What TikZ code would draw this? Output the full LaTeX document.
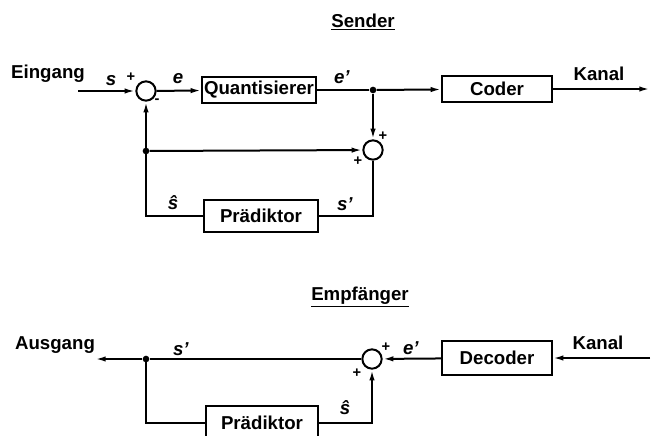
\documentclass[tikz,border=0pt]{standalone}
\usepackage{fontspec}
\setmainfont{Liberation Sans}
\usetikzlibrary{arrows.meta}
\begin{document}
\begin{tikzpicture}[x=0.75pt,y=-0.75pt,
  every node/.style={font=\fontsize{14}{16}\selectfont\bfseries},
  wire/.style={line width=1.5pt},
  arr/.style={wire,-{Latex[length=8pt,width=4pt]}},
  blk/.style={draw,line width=1.5pt,inner sep=0pt},
  sumpt/.style={draw,circle,line width=1.5pt,minimum size=14.5pt,inner sep=0pt},
  dotpt/.style={circle,fill,inner sep=0pt,minimum size=5pt},
  lbl/.style={inner sep=1pt},
  sg/.style={inner sep=0pt,font=\fontsize{11}{12}\selectfont\bfseries}]
\useasboundingbox (0,0) rectangle (655,435);
% titles
\node[lbl] (tsend) at (363,22) {\underline{Sender}};
\node[lbl] (temp) at (360,297) {\underline{Empfänger}};
% ---------- Sender ----------
\coordinate (in1) at (78,91);
\node[sumpt] (s1) at (146,91) {};
\node[blk,minimum width=85pt,minimum height=19pt] (q) at (259,90) {Quantisierer};
\node[dotpt] (j1) at (373,90) {};
\node[blk,minimum width=82pt,minimum height=20pt] (coder) at (497,89) {Coder};
\coordinate (out1) at (650,89);
\node[sumpt] (s2) at (373,150) {};
\node[dotpt] (j2) at (146,151) {};
\node[blk,minimum width=85pt,minimum height=24pt] (p1) at (261,216) {Prädiktor};
\coordinate (c1) at (146,216);
\coordinate (c2) at (373,216);

\draw[arr] (in1) -- (s1);
\draw[arr] (s1) -- (q);
\draw[wire] (q) -- (j1);
\draw[arr] (j1) -- (coder);
\draw[arr] (coder) -- (out1);
\draw[arr] (j1) -- (s2);
\draw[arr] (j2) -- (s2);
\draw[wire] (p1) -- (c1) -- (j2.center);
\draw[arr] (j2.center) -- (s1);
\draw[wire] (s2) -- (c2) -- (p1);

\node[lbl] (lEin) at (48,74) {Eingang};
\node[lbl] (ls) at (111,81) {\textit{s}};
\node[sg] (p1a) at (131,77) {+};
\node[sg] (m1) at (157,101) {-};
\node[lbl] (le) at (178,79) {\textit{e}};
\node[lbl] (lep) at (342,77) {\textit{e’}};
\node[lbl] (lKan) at (599,74) {Kanal};
\node[sg] (p2a) at (383,136) {+};
\node[sg] (p2b) at (358,161) {+};
\node[lbl] (lsh) at (173,203) {\textit{ŝ}};
\node[lbl] (lsp) at (345,204) {\textit{s’}};
% ---------- Empfaenger ----------
\coordinate (out2) at (95,359);
\node[dotpt] (j3) at (146,359) {};
\node[sumpt] (s3) at (372,359) {};
\node[blk,minimum width=82pt,minimum height=26pt] (dec) at (497,358) {Decoder};
\coordinate (in2) at (650,358);
\node[blk,minimum width=84pt,minimum height=26pt] (p2) at (262,423) {Prädiktor};
\coordinate (c3) at (146,423);
\coordinate (c4) at (372,423);

\draw[arr] (in2) -- (dec);
\draw[arr] (dec) -- (s3);
\draw[wire] (s3) -- (j3);
\draw[arr] (j3) -- (out2);
\draw[wire] (j3.center) -- (c3) -- (p2);
\draw[arr] (p2) -- (c4) -- (s3);

\node[lbl] (lAus) at (55,345) {Ausgang};
\node[lbl] (lsp2) at (181,349) {\textit{s’}};
\node[lbl] (lep2) at (411,348) {\textit{e’}};
\node[lbl] (lKan2) at (598,343) {Kanal};
\node[sg] (p3a) at (386,347) {+};
\node[sg] (p3b) at (357,373) {+};
\node[lbl] (lsh2) at (345,408) {\textit{ŝ}};
\end{tikzpicture}
\end{document}
